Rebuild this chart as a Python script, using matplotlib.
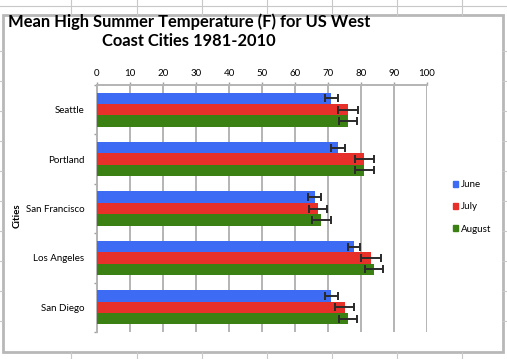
import matplotlib
matplotlib.use("Agg")
import matplotlib.pyplot as plt
import numpy as np
from matplotlib.lines import Line2D
from matplotlib.patches import Rectangle, Patch

cities = ["Seattle", "Portland", "San Francisco", "Los Angeles", "San Diego"]
months = ["June", "July", "August"]
june = [71, 73, 66, 78, 71]
july = [76, 81, 67, 83, 75]
august = [76, 81, 68, 84, 76]
june_err = [2, 2, 2, 1.8, 1.9]
july_err = [3, 2.8, 2.7, 3, 2.8]
august_err = [2.8, 2.8, 2.8, 2.8, 2.8]
xticks = [0, 10, 20, 30, 40, 50, 60, 70, 80, 90, 100]

colors = ["#3d6bf3", "#e8302a", "#3b8012"]

W, H = 507, 359
fig = plt.figure(figsize=(W / 100, H / 100), dpi=100)
fig.patch.set_facecolor("white")
plt.rcParams["font.family"] = ["Lato", "DejaVu Sans"]

# spreadsheet background grid (decoration)
gcol = "#c8c8c8"
for x in [71, 137, 202, 267, 332, 397, 462]:
    fig.add_artist(Line2D([x / W, x / W], [1 - 0 / H, 1 - 15 / H], color=gcol, lw=0.8))
    fig.add_artist(Line2D([x / W, x / W], [1 - 352 / H, 0], color=gcol, lw=0.8))
for y in [51, 81, 111, 141, 171, 201, 231, 261, 291, 321]:
    fig.add_artist(Line2D([502 / W, 1], [1 - y / H, 1 - y / H], color=gcol, lw=0.8))
    fig.add_artist(Line2D([0, 2 / W], [1 - y / H, 1 - y / H], color=gcol, lw=0.8))
fig.add_artist(Line2D([0, 1], [1 - 6 / H, 1 - 6 / H], color=gcol, lw=0.8))
# chart frame
fig.add_artist(Rectangle((2.5 / W, 1 - 352 / H), 500 / W, 337 / H, fill=False,
                         edgecolor="#b8b8b8", lw=2.0, transform=fig.transFigure))

ax = fig.add_axes([97 / W, 1 - 332 / H, 330 / W, 247 / H])
y = np.arange(len(cities))
h = 0.23
vals = [june, july, august]
errs = [june_err, july_err, august_err]
for i, (v, e, c, m) in enumerate(zip(vals, errs, colors, months)):
    ax.barh(y + (i - 1) * h, v, height=h, color=c, label=m, zorder=3)
    ax.errorbar(v, y + (i - 1) * h, xerr=e, fmt="none", ecolor="#2a2a2a",
                elinewidth=1.4, capsize=2.8, capthick=1.4, zorder=4)

ax.set_xlim(0, 100)
ax.set_ylim(4.5, -0.5)
ax.set_xticks(xticks)
ax.xaxis.tick_top()
ax.tick_params(axis="x", labelsize=7, length=2, color="#a0a0a0", pad=3, width=1)
ax.set_yticks(y)
ax.set_yticklabels(cities)
ax.tick_params(axis="y", which="major", length=0, labelsize=7, pad=9)
ax.set_yticks(np.arange(-0.5, 5, 1), minor=True)
ax.tick_params(axis="y", which="minor", length=2.5, color="#a0a0a0", width=1)
ax.grid(axis="x", color="#b4b4b4", lw=1.4, zorder=0)
for s in ["right", "bottom"]:
    ax.spines[s].set_visible(False)
for s in ["top", "left"]:
    ax.spines[s].set_color("#b4b4b4")
    ax.spines[s].set_linewidth(1.4)
ax.set_ylabel("Cities", fontsize=7, fontweight="bold", labelpad=6)
ax.yaxis.set_label_coords(-75 / 330, 0.47)

fig.text(189 / W, 1 - 31 / H, "Mean High Summer Temperature (F) for US West\nCoast Cities 1981-2010",
         ha="center", va="center", fontsize=11.9, fontweight="bold", linespacing=1.2)

handles = [Patch(color=c) for c in colors]
fig.legend(handles, months, loc="center left", bbox_to_anchor=(449 / W, 1 - 207 / H),
           frameon=False, fontsize=7, handlelength=0.55, handleheight=0.55,
           handletextpad=0.3, labelspacing=1.35, borderaxespad=0)

fig.savefig("out.png", dpi=100)
